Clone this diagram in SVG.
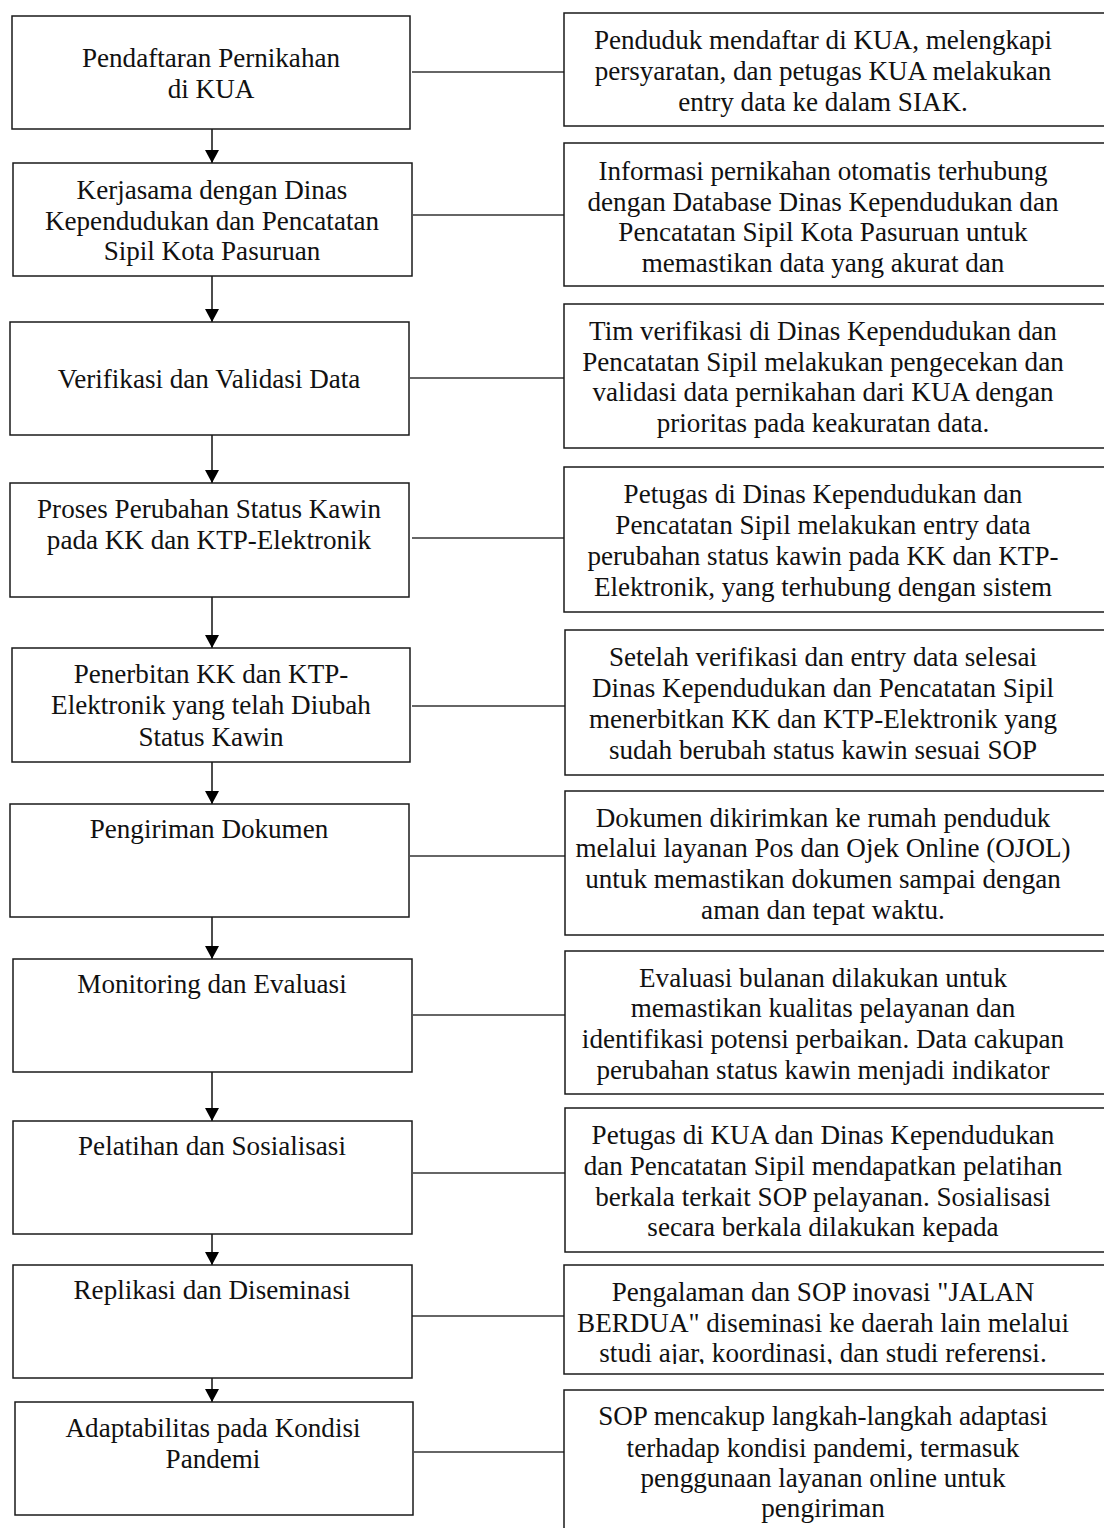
<svg xmlns="http://www.w3.org/2000/svg" width="1104" height="1528" viewBox="0 0 1104 1528">
<style>
.box{fill:#fff;stroke:#1a1a1a;stroke-width:1.5}
.t{font-family:"Liberation Serif","Times New Roman",serif;font-size:27.1px;fill:#111;text-anchor:middle}
.lnk{stroke:#333;stroke-width:1.3;fill:none}
.arr{stroke:#111;stroke-width:1.5;fill:none;marker-end:url(#ah)}
</style>
<defs>
<marker id="ah" markerUnits="userSpaceOnUse" markerWidth="13" markerHeight="14" viewBox="0 0 13 14" refX="13" refY="7" orient="auto">
<path d="M0,0 L13,7 L0,14 Z" fill="#000"/>
</marker>
<clipPath id="c9"><rect x="564" y="1265" width="545" height="99"/></clipPath>
</defs>
<rect width="1104" height="1528" fill="#fff"/>
<g id="connectors">
<line class="arr" x1="212" y1="129" x2="212" y2="163"/>
<line class="arr" x1="212" y1="276" x2="212" y2="322"/>
<line class="arr" x1="212" y1="435" x2="212" y2="483"/>
<line class="arr" x1="212" y1="597" x2="212" y2="648"/>
<line class="arr" x1="212" y1="762" x2="212" y2="804"/>
<line class="arr" x1="212" y1="917" x2="212" y2="959"/>
<line class="arr" x1="212" y1="1072" x2="212" y2="1121"/>
<line class="arr" x1="212" y1="1234" x2="212" y2="1265"/>
<line class="arr" x1="212" y1="1378" x2="212" y2="1402"/>
<line class="lnk" x1="412" y1="72" x2="564" y2="72"/>
<line class="lnk" x1="413" y1="215" x2="564" y2="215"/>
<line class="lnk" x1="410" y1="378" x2="564" y2="378"/>
<line class="lnk" x1="412" y1="538" x2="564" y2="538"/>
<line class="lnk" x1="412" y1="706" x2="565" y2="706"/>
<line class="lnk" x1="410" y1="856" x2="565" y2="856"/>
<line class="lnk" x1="413" y1="1015" x2="565" y2="1015"/>
<line class="lnk" x1="413" y1="1173" x2="565" y2="1173"/>
<line class="lnk" x1="412" y1="1316" x2="564" y2="1316"/>
<line class="lnk" x1="414" y1="1452" x2="564" y2="1452"/>
</g>
<g id="s1"><rect class="box" x="12" y="16" width="398" height="113"/>
<text class="t" x="211" y="67">Pendaftaran Pernikahan</text><text class="t" x="211" y="98">di KUA</text></g>
<g id="s2"><rect class="box" x="13" y="163" width="399" height="113"/>
<text class="t" x="212" y="199">Kerjasama dengan Dinas</text><text class="t" x="212" y="230">Kependudukan dan Pencatatan</text><text class="t" x="212" y="260">Sipil Kota Pasuruan</text></g>
<g id="s3"><rect class="box" x="10" y="322" width="399" height="113"/>
<text class="t" x="209" y="388">Verifikasi dan Validasi Data</text></g>
<g id="s4"><rect class="box" x="10" y="483" width="399" height="114"/>
<text class="t" x="209" y="518">Proses Perubahan Status Kawin</text><text class="t" x="209" y="549">pada KK dan KTP-Elektronik</text></g>
<g id="s5"><rect class="box" x="12" y="648" width="398" height="114"/>
<text class="t" x="211" y="683">Penerbitan KK dan KTP-</text><text class="t" x="211" y="714">Elektronik yang telah Diubah</text><text class="t" x="211" y="746">Status Kawin</text></g>
<g id="s6"><rect class="box" x="10" y="804" width="399" height="113"/>
<text class="t" x="209" y="838">Pengiriman Dokumen</text></g>
<g id="s7"><rect class="box" x="13" y="959" width="399" height="113"/>
<text class="t" x="212" y="993">Monitoring dan Evaluasi</text></g>
<g id="s8"><rect class="box" x="13" y="1121" width="399" height="113"/>
<text class="t" x="212" y="1155">Pelatihan dan Sosialisasi</text></g>
<g id="s9"><rect class="box" x="13" y="1265" width="399" height="113"/>
<text class="t" x="212" y="1299">Replikasi dan Diseminasi</text></g>
<g id="s10"><rect class="box" x="15" y="1402" width="398" height="113"/>
<text class="t" x="213" y="1437">Adaptabilitas pada Kondisi</text><text class="t" x="213" y="1468">Pandemi</text></g>

<g id="d1"><rect class="box" x="564" y="13" width="545" height="113"/>
<text class="t" x="823" y="49">Penduduk mendaftar di KUA, melengkapi</text><text class="t" x="823" y="80">persyaratan, dan petugas KUA melakukan</text><text class="t" x="823" y="111">entry data ke dalam SIAK.</text></g>
<g id="d2"><rect class="box" x="564" y="143" width="545" height="143"/>
<text class="t" x="823" y="180">Informasi pernikahan otomatis terhubung</text><text class="t" x="823" y="211">dengan Database Dinas Kependudukan dan</text><text class="t" x="823" y="241">Pencatatan Sipil Kota Pasuruan untuk</text><text class="t" x="823" y="272">memastikan data yang akurat dan</text></g>
<g id="d3"><rect class="box" x="564" y="304" width="545" height="144"/>
<text class="t" x="823" y="340">Tim verifikasi di Dinas Kependudukan dan</text><text class="t" x="823" y="371">Pencatatan Sipil melakukan pengecekan dan</text><text class="t" x="823" y="401">validasi data pernikahan dari KUA dengan</text><text class="t" x="823" y="432">prioritas pada keakuratan data.</text></g>
<g id="d4"><rect class="box" x="564" y="467" width="545" height="145"/>
<text class="t" x="823" y="503">Petugas di Dinas Kependudukan dan</text><text class="t" x="823" y="534">Pencatatan Sipil melakukan entry data</text><text class="t" x="823" y="565">perubahan status kawin pada KK dan KTP-</text><text class="t" x="823" y="596">Elektronik, yang terhubung dengan sistem</text></g>
<g id="d5"><rect class="box" x="565" y="630" width="545" height="145"/>
<text class="t" x="823" y="666">Setelah verifikasi dan entry data selesai</text><text class="t" x="823" y="697">Dinas Kependudukan dan Pencatatan Sipil</text><text class="t" x="823" y="728">menerbitkan KK dan KTP-Elektronik yang</text><text class="t" x="823" y="759">sudah berubah status kawin sesuai SOP</text></g>
<g id="d6"><rect class="box" x="565" y="791" width="545" height="144"/>
<text class="t" x="823" y="827">Dokumen dikirimkan ke rumah penduduk</text><text class="t" x="823" y="857">melalui layanan Pos dan Ojek Online (OJOL)</text><text class="t" x="823" y="888">untuk memastikan dokumen sampai dengan</text><text class="t" x="823" y="919">aman dan tepat waktu.</text></g>
<g id="d7"><rect class="box" x="565" y="951" width="545" height="143"/>
<text class="t" x="823" y="987">Evaluasi bulanan dilakukan untuk</text><text class="t" x="823" y="1017">memastikan kualitas pelayanan dan</text><text class="t" x="823" y="1048">identifikasi potensi perbaikan. Data cakupan</text><text class="t" x="823" y="1079">perubahan status kawin menjadi indikator</text></g>
<g id="d8"><rect class="box" x="565" y="1108" width="545" height="144"/>
<text class="t" x="823" y="1144">Petugas di KUA dan Dinas Kependudukan</text><text class="t" x="823" y="1175">dan Pencatatan Sipil mendapatkan pelatihan</text><text class="t" x="823" y="1206">berkala terkait SOP pelayanan. Sosialisasi</text><text class="t" x="823" y="1236">secara berkala dilakukan kepada</text></g>
<g id="d9"><rect class="box" x="564" y="1265" width="545" height="109"/>
<g clip-path="url(#c9)"><text class="t" x="823" y="1301">Pengalaman dan SOP inovasi "JALAN</text><text class="t" x="823" y="1332">BERDUA" diseminasi ke daerah lain melalui</text><text class="t" x="823" y="1362">studi ajar, koordinasi, dan studi referensi.</text></g></g>
<g id="d10"><rect class="box" x="564" y="1390" width="545" height="150"/>
<text class="t" x="823" y="1425">SOP mencakup langkah-langkah adaptasi</text><text class="t" x="823" y="1457">terhadap kondisi pandemi, termasuk</text><text class="t" x="823" y="1487">penggunaan layanan online untuk</text><text class="t" x="823" y="1517">pengiriman</text></g>
</svg>
